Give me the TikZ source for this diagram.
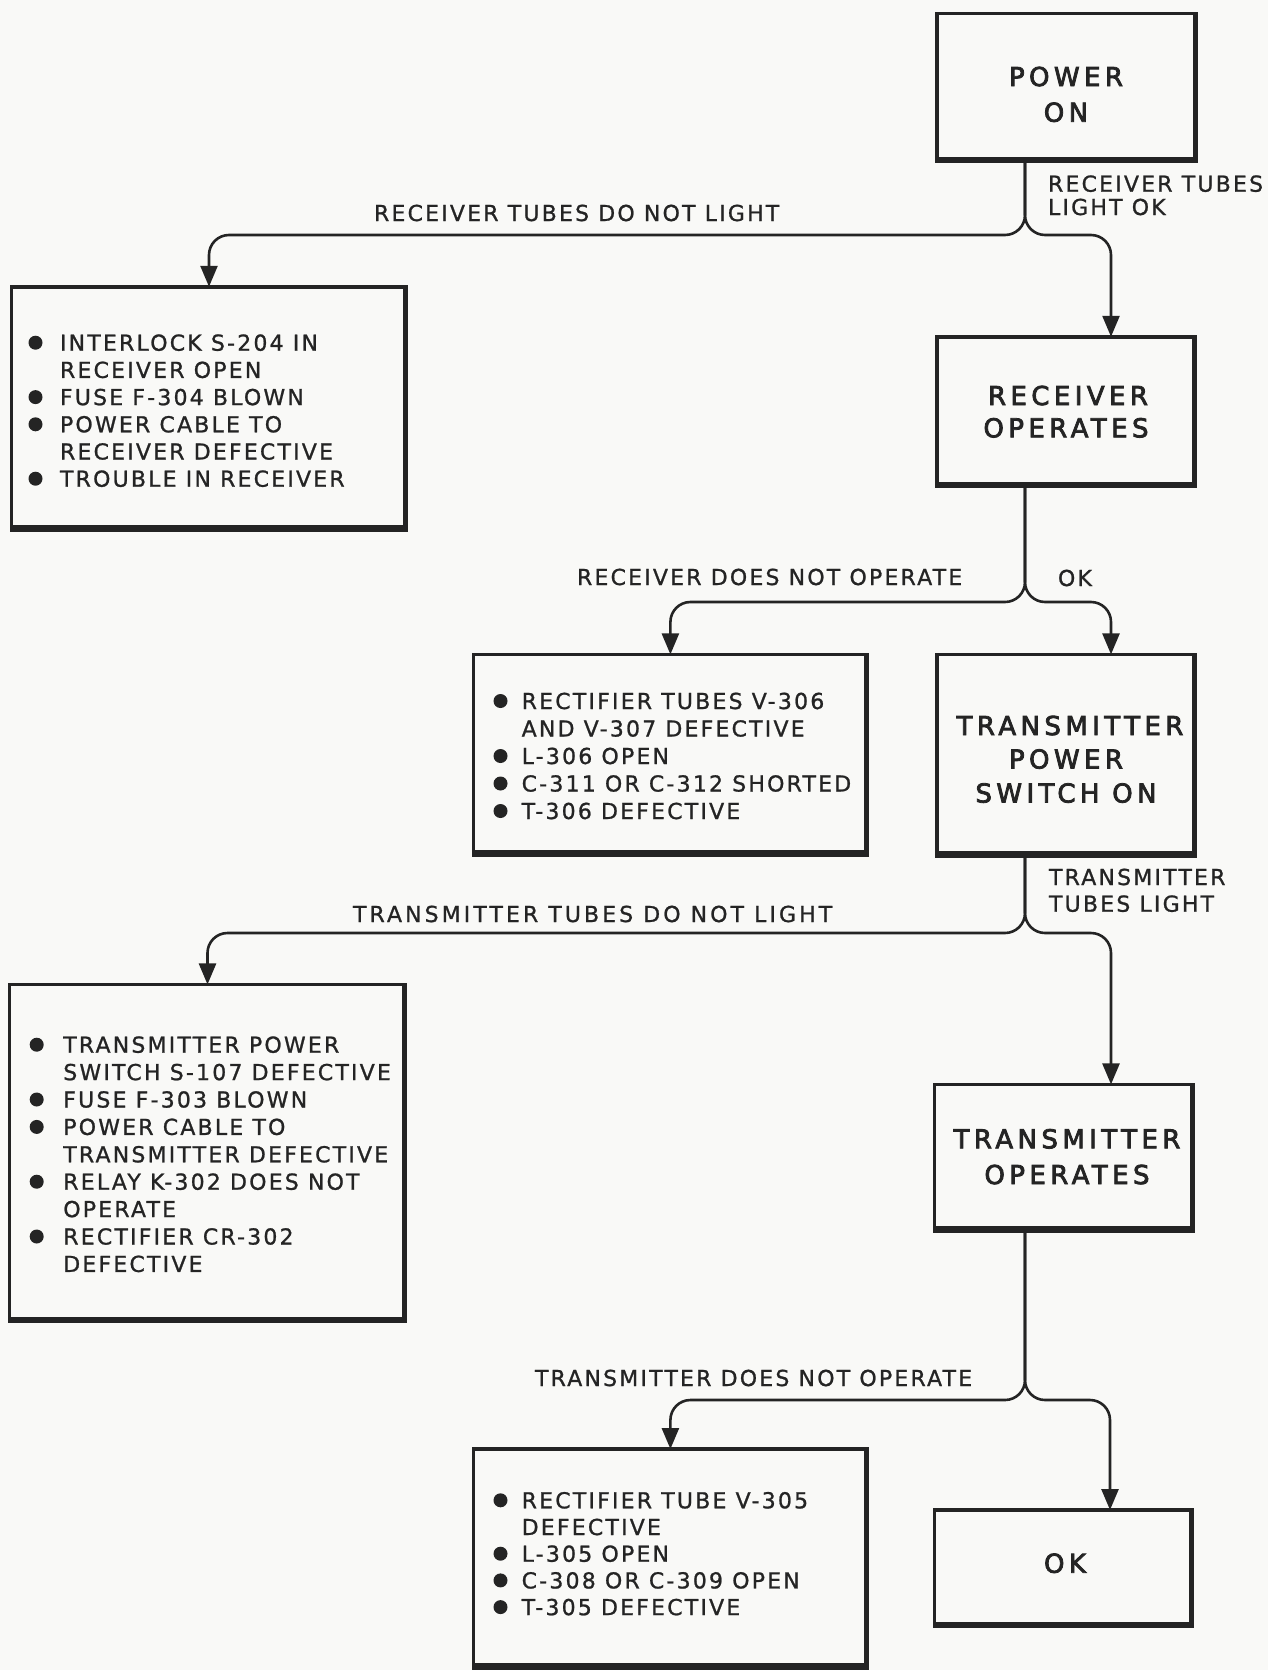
\documentclass[tikz,border=0pt]{standalone}
\usepackage{fontspec}
\setmainfont{DejaVu Sans}
\newfontfamily\smallf[LetterSpace=10,FakeBold=1]{DejaVu Sans}
\newfontfamily\widef[LetterSpace=14,FakeBold=1]{DejaVu Sans}
\newfontfamily\titlef[LetterSpace=17,FakeBold=3]{DejaVu Sans}
\usetikzlibrary{arrows.meta}
\definecolor{ink}{rgb}{0.14,0.14,0.14}
\definecolor{paper}{rgb}{0.975,0.975,0.968}
\begin{document}
\begin{tikzpicture}[x=1pt,y=-1pt,
  box/.style={draw=ink, line width=3.5pt, inner sep=0pt, outer sep=0pt, rectangle},
  shadowb/.style={draw=ink, line width=6.5pt},
  shadowr/.style={draw=ink, line width=5pt},
  conn/.style={draw=ink, line width=2.6pt, rounded corners=20pt},
  arr/.style={conn, -{Triangle[length=21pt,width=17pt]}, fill=none},
  txt/.style={anchor=base west, inner sep=0pt, outer sep=0pt, text=ink, font={\smallf\fontsize{22}{27}\selectfont}},
  lbl/.style={txt},
  ttl/.style={anchor=base, inner sep=0pt, outer sep=0pt, text=ink, font={\titlef\fontsize{26}{30}\selectfont}},
  bul/.style={fill=ink, draw=none, circle, minimum size=14pt, inner sep=0pt}
]
\fill[paper] (0,0) rectangle (1268,1670);
\useasboundingbox (0,0) rectangle (1268,1670);

% boxes
\node[box, minimum width=259.3pt, minimum height=147.8pt] (PO) at (1066.4,87.4) {};
\node[box, minimum width=258.3pt, minimum height=149.9pt] (RO) at (1065.9,411.7) {};
\node[box, minimum width=258.3pt, minimum height=201.6pt] (TPSO) at (1065.9,755.2) {};
\node[box, minimum width=258.6pt, minimum height=146.6pt] (TO) at (1064,1157.7) {};
\node[box, minimum width=257.9pt, minimum height=116.6pt] (OK) at (1063.4,1568.3) {};
\node[box, minimum width=394.6pt, minimum height=243.3pt] (B1) at (209,408.4) {};
\node[box, minimum width=393.9pt, minimum height=200.6pt] (B2) at (670.4,754.7) {};
\node[box, minimum width=395.6pt, minimum height=336.9pt] (B3) at (207.5,1152.9) {};
\node[box, minimum width=393.9pt, minimum height=219pt] (B4) at (670.4,1558.5) {};
\foreach \n in {PO,RO,TPSO,TO,OK,B1,B2,B3,B4} {
  \draw[shadowb] ([yshift=1.5pt]\n.south west) -- ([yshift=1.5pt]\n.south east);
  \draw[shadowr] ([xshift=-0.75pt]\n.north east) -- ([xshift=-0.75pt]\n.south east);
}

% titles
\node[ttl] (po1) at (1066,86) {POWER};
\node[ttl] (po2) at (1066,121.7) {ON};
\node[ttl] (ro1) at (1068,405) {RECEIVER};
\node[ttl] (ro2) at (1066,437.3) {OPERATES};
\node[ttl] (tp1) at (1070,735) {TRANSMITTER};
\node[ttl] (tp2) at (1066,768.5) {POWER};
\node[ttl] (tp3) at (1066,802.5) {SWITCH ON};
\node[ttl] (to1) at (1067,1148.3) {TRANSMITTER};
\node[ttl] (to2) at (1067,1184) {OPERATES};
\node[ttl] (ok1) at (1065,1572.7) {OK};

% fork points
\coordinate (f1) at (1025,235);   \coordinate (r1) at (1111,235);
\coordinate (f2) at (1025,602);   \coordinate (r2) at (1111,602);
\coordinate (f3) at (1025,933);   \coordinate (r3) at (1111,933);
\coordinate (f4) at (1025,1400);  \coordinate (r4) at (1110,1400);

% connectors
\draw[arr] (PO.south -| f1) -- (f1) -- (f1 -| B1.north) -- (B1.north);
\draw[arr] (PO.south -| f1) -- (f1) -- (r1) -- (r1 |- RO.north);
\draw[arr] (RO.south -| f2) -- (f2) -- (f2 -| B2.north) -- (B2.north);
\draw[arr] (RO.south -| f2) -- (f2) -- (r2) -- (r2 |- TPSO.north);
\draw[arr] (TPSO.south -| f3) -- (f3) -- (f3 -| B3.north) -- (B3.north);
\draw[arr] (TPSO.south -| f3) -- (f3) -- (r3) -- (r3 |- TO.north);
\draw[arr] (TO.south -| f4) -- (f4) -- (f4 -| B4.north) -- (B4.north);
\draw[arr] (TO.south -| f4) -- (f4) -- (r4) -- (r4 |- OK.north);

% connector labels
\node[lbl] (l1) at (374,221) {RECEIVER TUBES DO NOT LIGHT};
\node[lbl] (l2a) at (1048,191.7) {RECEIVER TUBES};
\node[lbl] (l2b) at (1048,215) {LIGHT OK};
\node[lbl] (l3) at (577,585) {RECEIVER DOES NOT OPERATE};
\node[lbl] (l4) at (1058,586) {OK};
\node[lbl] (l5a) at (1049,885) {TRANSMITTER};
\node[lbl] (l5b) at (1049,911.7) {TUBES LIGHT};
\node[lbl, font={\widef\fontsize{22}{27}\selectfont}] (l6) at (353,922) {TRANSMITTER TUBES DO NOT LIGHT};
\node[lbl] (l7) at (535,1386) {TRANSMITTER DOES NOT OPERATE};

% box 1 items
\foreach \b/\t [count=\i] in {1/INTERLOCK S-204 IN, 0/RECEIVER OPEN, 1/FUSE F-304 BLOWN, 1/POWER CABLE TO, 0/RECEIVER DEFECTIVE, 1/TROUBLE IN RECEIVER} {
  \node[txt] (b1t\i) at (60, {350.7+27.2*(\i-1)}) {\t};
  \ifnum\b=1 \node[bul] (b1b\i) at (35.5, {350.7+27.2*(\i-1)-8}) {}; \fi
}
% box 2 items
\foreach \b/\t [count=\i] in {1/RECTIFIER TUBES V-306, 0/AND V-307 DEFECTIVE, 1/L-306 OPEN, 1/C-311 OR C-312 SHORTED, 1/T-306 DEFECTIVE} {
  \node[txt] (b2t\i) at (521.7, {709+27.5*(\i-1)}) {\t};
  \ifnum\b=1 \node[bul] (b2b\i) at (500.5, {709+27.5*(\i-1)-8}) {}; \fi
}
% box 3 items
\foreach \b/\t [count=\i] in {1/TRANSMITTER POWER, 0/SWITCH S-107 DEFECTIVE, 1/FUSE F-303 BLOWN, 1/POWER CABLE TO, 0/TRANSMITTER DEFECTIVE, 1/RELAY K-302 DOES NOT, 0/OPERATE, 1/RECTIFIER CR-302, 0/DEFECTIVE} {
  \node[txt] (b3t\i) at (63.3, {1052.7+27.4*(\i-1)}) {\t};
  \ifnum\b=1 \node[bul] (b3b\i) at (36.7, {1052.7+27.4*(\i-1)-8}) {}; \fi
}
% box 4 items
\foreach \b/\t [count=\i] in {1/RECTIFIER TUBE V-305, 0/DEFECTIVE, 1/L-305 OPEN, 1/C-308 OR C-309 OPEN, 1/T-305 DEFECTIVE} {
  \node[txt] (b4t\i) at (521.7, {1508.3+26.7*(\i-1)}) {\t};
  \ifnum\b=1 \node[bul] (b4b\i) at (500.5, {1508.3+26.7*(\i-1)-8}) {}; \fi
}
\end{tikzpicture}
\end{document}
